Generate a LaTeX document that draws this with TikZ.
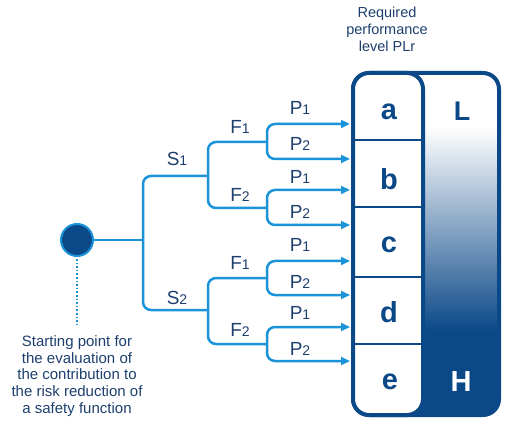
\documentclass[tikz,border=0pt]{standalone}
\usepackage{fontspec}
\setmainfont{Liberation Sans}
\usetikzlibrary{arrows.meta}
\definecolor{lineblue}{HTML}{1A93D8}
\definecolor{navy}{HTML}{0B4888}
\definecolor{txtnavy}{HTML}{1E3F6E}
\newcommand\mylab[2]{\fontsize{19}{19}\selectfont #1{\fontsize{14}{14}\selectfont #2}}
\begin{document}
\begin{tikzpicture}[x=1pt,y=-1pt,
  branch/.style={draw=lineblue,line width=2.5pt,rounded corners=8pt},
  tip/.style={{Triangle[length=9pt,width=8pt]}-{Triangle[length=9pt,width=8pt]}},
  lab/.style={text=txtnavy,inner sep=0pt,anchor=center},
  letter/.style={font=\fontsize{29}{29}\selectfont\bfseries,text=navy,inner sep=0pt},
  note/.style={text=txtnavy,align=center,inner sep=0pt,font=\fontsize{15}{16.8}\selectfont}]
\useasboundingbox (0,0) rectangle (511,430);
% box
\begin{scope}
  \clip[rounded corners=16pt] (353,73) rectangle (499,415);
  \fill[white] (353,73) rectangle (499,128);
  \shade[top color=white,bottom color=navy,middle color=navy!50] (353,127) rectangle (499,331);
  \fill[navy] (353,330) rectangle (499,415);
\end{scope}
\draw[navy,line width=4pt,rounded corners=16pt] (353,73) rectangle (499,415);
\draw[navy,line width=4pt,fill=white,rounded corners=16pt] (353,73) rectangle (423,415);
\draw[navy,line width=1.5pt] (355,140) -- (421,140) (355,207) -- (421,207) (355,277) -- (421,277) (355,344) -- (421,344);
\node[letter] (la) at (389,112) {a};
\node[letter] (lb) at (389,179) {b};
\node[letter] (lc) at (389,245) {c};
\node[letter] (ld) at (389,312) {d};
\node[letter] (le) at (390,382) {e};
\node[letter,font=\fontsize{27}{27}\selectfont\bfseries] (lL) at (462,111) {L};
\node[letter,font=\fontsize{29}{29}\selectfont\bfseries,text=white] (lH) at (461,381.5) {H};
% title
\node[note,font=\fontsize{14.5}{17}\selectfont] (title) at (387,29) {Required\\performance\\level PLr};
% start
\node[circle,fill=navy,draw=lineblue,line width=2pt,minimum size=32pt,inner sep=0pt] (start) at (77,240) {};
\coordinate (trunk) at (143,240);
\coordinate (note top) at (77,326);
\draw[lineblue,line width=1.8pt,dash pattern=on 1.6pt off 2pt] (start.south) ++(0,2) -- (note top);
\node[note] (notetext) at (77,376) {Starting point for\\the evaluation of\\the contribution to\\the risk reduction of\\a safety function};
% tree
\coordinate (s1) at (143,176); \coordinate (s2) at (143,310);
\coordinate (f1) at (208,176); \coordinate (f2) at (208,310);
\draw[branch] (start) -- (trunk);
\draw[branch] (f1) -- (s1) -- (s2) -- (f2);
% group 1
\coordinate (f11) at (267,142); \coordinate (f12) at (267,208);
\draw[branch] (f11) -- (208,142) -- (208,208) -- (f12);
\coordinate (a1) at (350,124); \coordinate (a2) at (350,159);
\coordinate (a3) at (350,190); \coordinate (a4) at (350,225);
\draw[branch,tip] (a1) -- (267,124) -- (267,159) -- (a2);
\draw[branch,tip] (a3) -- (267,190) -- (267,225) -- (a4);
% group 2
\coordinate (f21) at (267,278); \coordinate (f22) at (267,344);
\draw[branch] (f21) -- (208,278) -- (208,344) -- (f22);
\coordinate (a5) at (350,261); \coordinate (a6) at (350,295);
\coordinate (a7) at (350,327); \coordinate (a8) at (350,361);
\draw[branch,tip] (a5) -- (267,261) -- (267,295) -- (a6);
\draw[branch,tip] (a7) -- (267,327) -- (267,361) -- (a8);
% labels
\node[lab] (tS1) at (177,159) {\mylab{S}{1}};
\node[lab] (tS2) at (177,298) {\mylab{S}{2}};
\node[lab] (tF11) at (240,127) {\mylab{F}{1}};
\node[lab] (tF12) at (240,195) {\mylab{F}{2}};
\node[lab] (tF21) at (240,263) {\mylab{F}{1}};
\node[lab] (tF22) at (240,330) {\mylab{F}{2}};
\node[lab] (tP1) at (300,108) {\mylab{P}{1}};
\node[lab] (tP2) at (300,144) {\mylab{P}{2}};
\node[lab] (tP3) at (300,177) {\mylab{P}{1}};
\node[lab] (tP4) at (300,212) {\mylab{P}{2}};
\node[lab] (tP5) at (300,245) {\mylab{P}{1}};
\node[lab] (tP6) at (300,282) {\mylab{P}{2}};
\node[lab] (tP7) at (300,313) {\mylab{P}{1}};
\node[lab] (tP8) at (300,349) {\mylab{P}{2}};
\end{tikzpicture}
\end{document}
